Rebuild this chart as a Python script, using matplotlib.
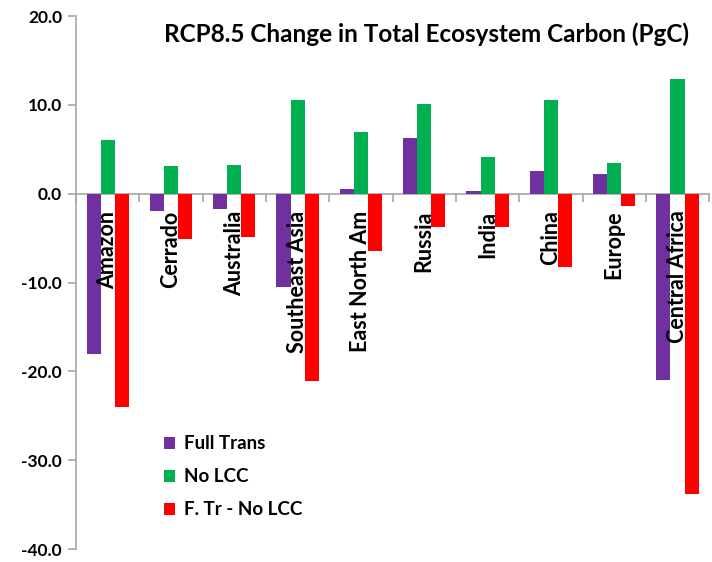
import numpy as np
import matplotlib
matplotlib.use("Agg")
import matplotlib.pyplot as plt

plt.rcParams['font.family'] = ['Lato', 'DejaVu Sans']
plt.rcParams['font.weight'] = 'bold'

regions = ['Amazon', 'Cerrado', 'Australia', 'Southeast Asia', 'East North Am',
           'Russia', 'India', 'China', 'Europe', 'Central Africa']
full_trans = [-18.0, -2.0, -1.7, -10.5, 0.5, 6.3, 0.3, 2.5, 2.2, -21.0]
no_lcc = [6.0, 3.1, 3.2, 10.6, 6.9, 10.1, 4.1, 10.6, 3.5, 12.9]
diff = [-24.0, -5.1, -4.9, -21.1, -6.4, -3.8, -3.8, -8.2, -1.4, -33.8]
series_names = ['Full Trans', 'No LCC', 'F. Tr - No LCC']
colors = ['#7030A0', '#00B050', '#FF0000']

fig = plt.figure(figsize=(7.12, 5.62), dpi=100)
ax = fig.add_axes([0.1067, 0.0231, 0.8893, 0.9484])

x = np.arange(len(regions))
w = 1 / 4.5
for k, (vals, name, c) in enumerate(zip([full_trans, no_lcc, diff], series_names, colors)):
    ax.bar(x + (k - 1) * w, vals, w, color=c, label=name, zorder=1)

ax.set_xlim(-0.5, len(regions) - 0.5)
ax.set_ylim(-40, 20)
ax.set_yticks(np.arange(-40, 21, 10))
ax.set_yticklabels(['%.1f' % v for v in np.arange(-40, 21, 10)], fontsize=12.5, fontweight='bold')

for s in ['top', 'right']:
    ax.spines[s].set_visible(False)
ax.spines['bottom'].set_position(('data', 0))
for s in ['bottom', 'left']:
    ax.spines[s].set_color('#A6A6A6')
    ax.spines[s].set_linewidth(1.2)
    ax.spines[s].set_zorder(0.5)
ax.set_xticks(np.arange(-0.5, len(regions), 1.0))
ax.set_xticklabels([])
ax.tick_params(axis='x', direction='out', length=6, color='#A6A6A6', width=1.2)
ax.tick_params(axis='y', direction='out', length=6, color='#A6A6A6', width=1.2, pad=4)

for i, name in enumerate(regions):
    ax.text(i, -1.9, name, rotation=90, ha='center', va='top', fontsize=15.5,
            fontweight='bold', zorder=3)

ax.set_title('RCP8.5 Change in Total Ecosystem Carbon (PgC)', fontsize=17.5,
             fontweight='bold', x=0.554, y=0.935)

ax.legend(loc='upper left', bbox_to_anchor=(0.112, 0.245), frameon=False,
          handlelength=0.6, handleheight=0.6, labelspacing=0.85,
          handletextpad=0.5, prop={'weight': 'bold', 'size': 13.5})

fig.savefig('out.png', dpi=100)
